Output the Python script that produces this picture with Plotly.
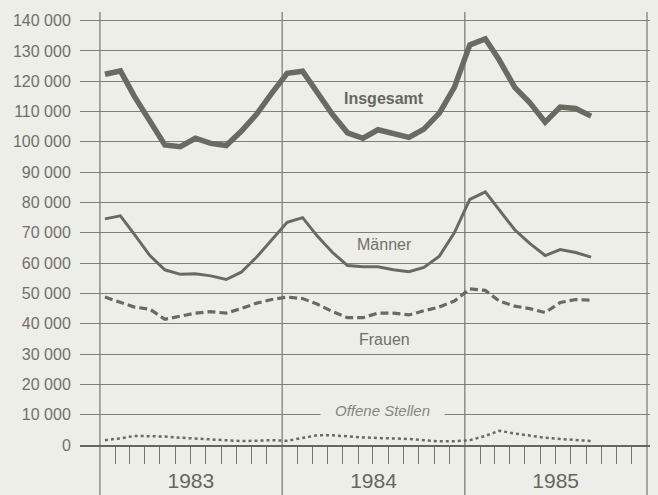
import plotly.graph_objects as go

# Monate Jan 1983 - Sep 1985 (Datenpunkt jeweils Mitte des Monats)
jahre = ["1983", "1984", "1985"]
monate = [f"{j}-{m:02d}-11" for j in jahre for m in range(1, 13)][:33]

# Arbeitslose
insgesamt = [122300, 123400, 115000, 107000, 99000, 98400, 101200, 99500, 98800, 103500, 109200, 116000,
             122600, 123300, 116600, 109000, 103000, 101200, 104000, 102700, 101500, 104200, 109500, 118000,
             132000, 134000, 127000, 118000, 113000, 106500, 111500, 111000, 108500]
maenner = [74600, 75600, 69500, 62500, 57800, 56300, 56500, 55800, 54600, 57000, 62000, 67500,
           73500, 75000, 69000, 63500, 59200, 58800, 58800, 57800, 57200, 58600, 62300, 70000,
           81000, 83500, 77500, 71000, 66500, 62500, 64500, 63500, 62000]
frauen = [48800, 47200, 45500, 44800, 41500, 42500, 43500, 44000, 43500, 45000, 46800, 48000,
          48800, 48300, 46500, 44000, 42000, 42000, 43500, 43500, 42900, 44300, 45500, 47500,
          51500, 51000, 47500, 45800, 45000, 43700, 47000, 48000, 47800]
offene_stellen = [1600, 2200, 3000, 3000, 2800, 2400, 2100, 1900, 1600, 1300, 1400, 1600,
                  1400, 2200, 3200, 3200, 2800, 2500, 2300, 2200, 2000, 1600, 1200, 1200,
                  1600, 3000, 4700, 3800, 3000, 2400, 2000, 1600, 1300]

y_ticks = list(range(0, 140001, 10000))
y_labels = [f"{v:,}".replace(",", " ") for v in y_ticks]
jahresgrenzen = ["1983-01-01", "1984-01-01", "1985-01-01", "1986-01-01"]
jahresmitten = ["1983-07-02", "1984-07-02", "1985-07-02"]
monatsstriche = [f"{j}-{m:02d}-01" for j in jahre for m in range(2, 13)]

BG = "#eeeee9"
LINIE = "#6b6a60"
GRID = "#7f7f77"
TEXT = "#6e706a"
FONT = "Liberation Sans, Arial, sans-serif"

fig = go.Figure()
fig.add_trace(go.Scatter(x=monate, y=offene_stellen, mode="lines",
                         line=dict(color=LINIE, width=2.5, dash="dot")))
fig.add_trace(go.Scatter(x=monate, y=frauen, mode="lines",
                         line=dict(color=LINIE, width=3.2, dash="8px,4px")))
fig.add_trace(go.Scatter(x=monate, y=maenner, mode="lines",
                         line=dict(color=LINIE, width=3)))
fig.add_trace(go.Scatter(x=monate, y=insgesamt, mode="lines",
                         line=dict(color=LINIE, width=5.5)))

# Jahreslinien (gehen ueber die Achse hinaus bis zum unteren Rand)
for d in jahresgrenzen:
    fig.add_shape(type="line", xref="x", yref="paper", x0=d, x1=d, y0=-50 / 433, y1=1,
                  line=dict(color="#777770", width=1.2), layer="below")

fig.update_layout(
    width=658, height=495,
    paper_bgcolor=BG, plot_bgcolor=BG,
    margin=dict(l=80, r=8, t=12, b=50),
    showlegend=False,
    font=dict(family=FONT, color=TEXT),
    xaxis=dict(
        type="date", range=["1982-11-22", "1986-01-07"], automargin=False,
        showgrid=False, zeroline=False,
        showline=True, linecolor="#66665f", linewidth=2,
        tickmode="array", tickvals=jahresmitten, ticktext=jahre,
        ticks="outside", ticklen=16, tickcolor="rgba(0,0,0,0)",
        tickfont=dict(size=21, color="#66665f"),
        minor=dict(tickmode="array", tickvals=monatsstriche, ticks="outside",
                   ticklen=17, tickwidth=1.3, tickcolor="#777770", showgrid=False),
    ),
    yaxis=dict(
        range=[0, 142850], automargin=False,
        showgrid=True, gridcolor=GRID, gridwidth=1.3,
        zeroline=False, showline=False,
        tickmode="array", tickvals=y_ticks, ticktext=y_labels,
        ticks="outside", ticklen=5, tickcolor="rgba(0,0,0,0)",
        tickfont=dict(size=16, color=TEXT),
    ),
    annotations=[
        dict(x="1984-07-24", y=114300, text="<b>Insgesamt</b>", showarrow=False,
             font=dict(size=16, color="#66665f")),
        dict(x="1984-07-24", y=66000, text="Männer", showarrow=False,
             font=dict(size=16, color="#70716a")),
        dict(x="1984-07-24", y=34700, text="Frauen", showarrow=False,
             font=dict(size=16, color="#70716a")),
        dict(x="1984-07-20", y=11400, text="<i>Offene Stellen</i>", showarrow=False,
             font=dict(size=15, color="#85867f"), bgcolor=BG, width=121, height=16),
    ],
)

# Standardrand des <body> entfernen, damit die Grafik genau im Fenster sitzt
fig.write_html("out.html", config={"displayModeBar": False},
               post_script="document.body.style.margin='0';")
